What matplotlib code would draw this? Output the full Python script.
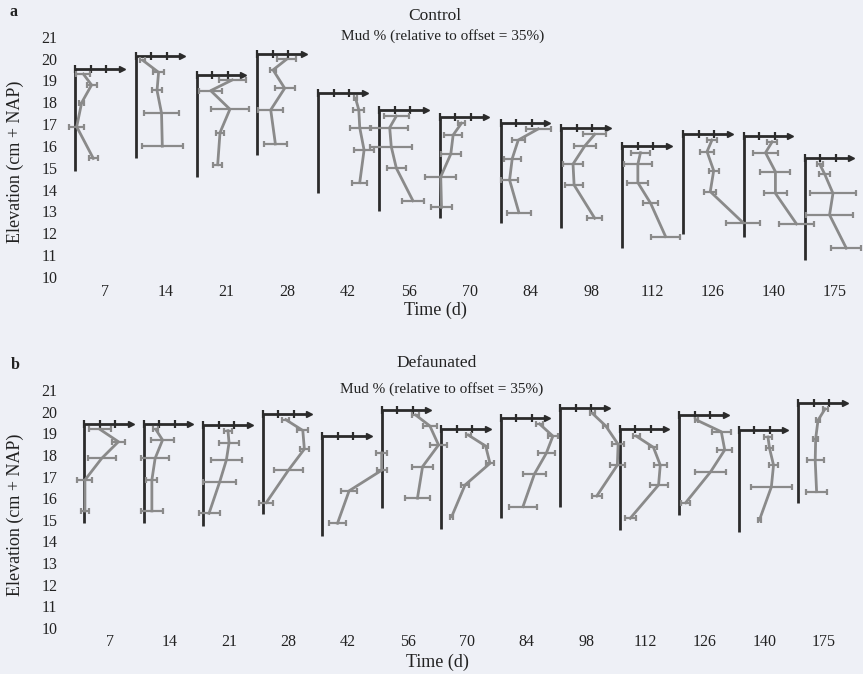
import matplotlib
matplotlib.use("Agg")
import matplotlib.pyplot as plt

days = ['7', '14', '21', '28', '42', '56', '70', '84', '98', '112', '126', '140', '175']
mud_axis_ticks = [0, 10, 20]
mud_axis_end = 30
y_ticks = list(range(10, 22))

# ---- Control ----
surface_c = [19.52, 20.10, 19.25, 20.21, 18.44, 17.65, 17.31, 17.04, 16.84, 15.98, 16.55, 16.46, 15.43]
bottom_c = [14.87, 15.43, 14.59, 15.59, 13.83, 13.04, 12.69, 12.49, 12.23, 11.32, 11.96, 11.85, 10.78]
elev_c = [
    [19.29, 18.79, 17.98, 16.88, 15.43],
    [19.92, 19.37, 18.54, 17.50, 15.99],
    [19.02, 18.53, 17.68, 16.61, 15.14],
    [19.96, 19.48, 18.64, 17.65, 16.09],
    [18.18, 17.65, 16.84, 15.81, 14.32],
    [17.37, 16.84, 15.97, 14.98, 13.49],
    [17.04, 16.50, 15.63, 14.59, 13.19],
    [16.78, 16.27, 15.42, 14.44, 12.95],
    [16.53, 16.00, 15.17, 14.21, 12.69],
    [15.69, 15.16, 14.32, 13.38, 11.85],
    [16.27, 15.74, 14.87, 13.91, 12.49],
    [16.19, 15.69, 14.82, 13.83, 12.43],
    [15.17, 14.72, 13.83, 12.84, 11.32],
]
mud_c = [
    [5.4, 10.7, 4.3, 1.1, 11.8],
    [4.5, 14.7, 13.7, 16.6, 17.1],
    [23.0, 9.1, 21.5, 15.1, 13.6],
    [18.7, 10.1, 17.6, 8.6, 11.6],
    [24.1, 26.2, 26.8, 29.6, 26.8],
    [11.2, 6.9, 7.9, 11.2, 21.9],
    [14.0, 8.6, 7.1, 0.6, 1.1],
    [24.3, 11.4, 7.5, 5.8, 11.8],
    [21.5, 15.1, 7.5, 8.2, 21.5],
    [11.8, 10.1, 10.1, 18.3, 28.0],
    [18.7, 15.5, 19.8, 17.6, 38.7],
    [18.3, 14.0, 20.4, 20.4, 34.0],
    [9.7, 12.9, 18.3, 16.1, 26.9],
]
err_c = [
    [4.5, 3.2, 1.6, 5.0, 2.8],
    [1.7, 3.8, 3.2, 11.3, 13.3],
    [8.6, 7.3, 12.4, 2.6, 2.9],
    [5.9, 2.2, 6.5, 8.1, 7.3],
    [1.0, 3.5, 6.5, 6.2, 4.9],
    [8.1, 11.8, 13.4, 5.9, 7.0],
    [2.4, 5.9, 6.5, 10.0, 7.0],
    [8.1, 4.3, 5.6, 5.6, 7.7],
    [7.5, 7.2, 6.5, 5.9, 4.8],
    [6.2, 9.1, 6.8, 4.8, 9.1],
    [3.2, 4.8, 3.2, 3.8, 10.8],
    [3.2, 8.3, 9.7, 7.3, 11.3],
    [1.9, 3.4, 14.8, 15.4, 9.7],
]

# ---- Defaunated ----
surface_d = [19.41, 19.41, 19.38, 19.90, 18.87, 20.08, 19.18, 19.69, 20.15, 19.18, 19.84, 19.14, 20.40]
bottom_d = [14.84, 14.84, 14.72, 15.27, 14.25, 15.53, 14.56, 15.07, 15.61, 14.53, 15.22, 14.45, 15.76]
elev_d = [
    [19.18, 18.61, 17.84, 16.84, 15.41],
    [19.18, 18.69, 17.84, 16.84, 15.41],
    [19.12, 18.56, 17.77, 16.76, 15.30],
    [19.63, 19.13, 18.27, 17.30, 15.80],
    [18.09, 17.29, 16.34, 14.84],
    [19.84, 19.34, 18.46, 17.46, 16.00],
    [18.92, 18.41, 17.61, 16.61, 15.15],
    [19.43, 18.87, 18.07, 17.12, 15.61],
    [19.92, 19.34, 18.49, 17.53, 16.10],
    [18.87, 18.35, 17.53, 16.61, 15.07],
    [19.61, 19.07, 18.23, 17.22, 15.79],
    [18.83, 18.31, 17.53, 16.52, 14.99],
    [20.13, 19.60, 18.75, 17.75, 16.30],
]
mud_d = [
    [10.3, 22.2, 11.4, 0.6, 0.6],
    [7.9, 12.3, 7.5, 5.4, 5.4],
    [16.1, 16.8, 15.1, 10.8, 3.9],
    [15.0, 26.0, 27.0, 16.8, 2.5],
    [38.5, 38.5, 17.5, 10.0],
    [22.1, 31.2, 36.8, 26.5, 23.2],
    [17.6, 28.8, 31.6, 15.5, 6.9],
    [25.2, 33.8, 29.5, 21.9, 14.5],
    [20.9, 29.5, 37.5, 37.0, 23.7],
    [10.8, 21.9, 26.3, 25.2, 6.9],
    [11.4, 27.3, 29.5, 20.4, 4.3],
    [19.0, 20.0, 22.6, 21.2, 13.5],
    [17.5, 12.9, 11.4, 11.1, 12.0],
]
err_d = [
    [7.0, 4.1, 9.1, 4.8, 2.4],
    [1.7, 7.5, 8.9, 3.5, 7.2],
    [2.4, 6.5, 10.2, 10.8, 6.8],
    [2.2, 3.6, 2.7, 9.4, 4.5],
    [3.4, 3.3, 5.3, 5.8],
    [2.2, 4.3, 5.4, 7.0, 8.1],
    [1.6, 1.8, 2.7, 2.5, 1.0],
    [2.4, 3.0, 5.6, 7.5, 9.1],
    [1.8, 1.5, 3.8, 4.8, 3.2],
    [2.4, 2.6, 4.3, 5.8, 3.5],
    [1.0, 6.0, 4.8, 10.0, 2.9],
    [2.6, 2.3, 3.2, 13.4, 1.0],
    [1.6, 1.0, 1.6, 5.4, 7.0],
]

W, H = 863, 674
BG = '#eef0f6'
DARK = '#2b2b2b'
GREY = '#8a8a8a'
TXT = '#222222'
plt.rcParams['font.family'] = ['Liberation Serif', 'DejaVu Serif']

fig = plt.figure(figsize=(W / 100, H / 100), dpi=100, facecolor=BG)


def fx(px):
    return px / W


def fy(py):
    return 1 - py / H


PXU = 1.55  # pixels per mud unit


def panel(top_px, bot_px, first_px, spacing, label_off, surface, bottom, elev, mud, err, pad):
    left_px, right_px = 60, 858
    ax = fig.add_axes([fx(left_px), fy(bot_px), (right_px - left_px) / W, (bot_px - top_px) / H])
    ax.set_facecolor('none')
    ax.set_xlim((left_px - first_px) / PXU, (right_px - first_px) / PXU)
    ax.set_ylim(10, 21)
    for s in ax.spines.values():
        s.set_visible(False)
    bases = [i * spacing for i in range(len(days))]
    for i, b in enumerate(bases):
        ax.plot([b, b], [bottom[i], surface[i]], color=DARK, lw=2.0, solid_capstyle='butt',
                clip_on=False, zorder=3)
        ax.plot([b, b + mud_axis_end], [surface[i], surface[i]], color=DARK, lw=2.0,
                clip_on=False, zorder=3)
        ax.plot([b + t for t in mud_axis_ticks], [surface[i]] * len(mud_axis_ticks),
                ls='none', marker='|', ms=6, mew=1.6, color=DARK, clip_on=False, zorder=3)
        ax.plot([b + mud_axis_end], [surface[i]], ls='none', marker='>', ms=4.5,
                color=DARK, clip_on=False, zorder=3)
        ax.errorbar([b + m for m in mud[i]], elev[i], xerr=err[i], color=GREY, lw=2.0,
                    elinewidth=1.6, capsize=2.4, capthick=1.6, clip_on=False, zorder=4)
    ax.set_xticks([b + label_off for b in bases])
    ax.set_xticklabels(days)
    ax.set_yticks(y_ticks)
    ax.tick_params(axis='both', length=0, labelsize=11.5, colors=TXT)
    ax.tick_params(axis='x', pad=pad)
    ax.tick_params(axis='y', pad=2)
    return ax


panel(36.7, 277, 75, 60.8 / PXU, 30 / PXU, surface_c, bottom_c, elev_c, mud_c, err_c, 5)
panel(390, 628, 84, 59.5 / PXU, 26 / PXU, surface_d, bottom_d, elev_d, mud_d, err_d, 4)

# texts
fig.text(fx(13), fy(12), 'a', fontsize=11.5, fontweight='bold', color=TXT, ha='center', va='center')
fig.text(fx(15), fy(365), 'b', fontsize=11.5, fontweight='bold', color=TXT, ha='center', va='center')
fig.text(fx(435), fy(16), 'Control', fontsize=12.5, color=TXT, ha='center', va='center')
fig.text(fx(443), fy(36), 'Mud % (relative to offset = 35%)', fontsize=11, color=TXT, ha='center', va='center')
fig.text(fx(437), fy(363), 'Defaunated', fontsize=12.5, color=TXT, ha='center', va='center')
fig.text(fx(442), fy(389), 'Mud % (relative to offset = 35%)', fontsize=11, color=TXT, ha='center', va='center')
fig.text(fx(435), fy(310), 'Time (d)', fontsize=13, color=TXT, ha='center', va='center')
fig.text(fx(437), fy(662), 'Time (d)', fontsize=13, color=TXT, ha='center', va='center')
fig.text(fx(15), fy(162), 'Elevation (cm + NAP)', fontsize=13, color=TXT, ha='center', va='center', rotation=90)
fig.text(fx(15), fy(515), 'Elevation (cm + NAP)', fontsize=13, color=TXT, ha='center', va='center', rotation=90)

fig.savefig('out.png', dpi=100, facecolor=BG)
